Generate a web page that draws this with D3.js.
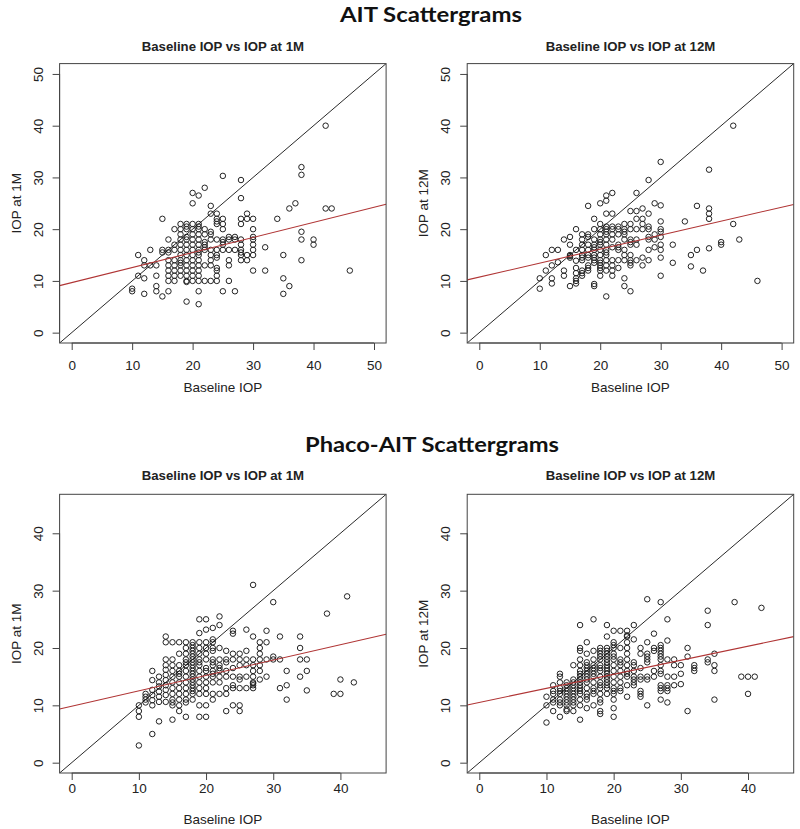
<!DOCTYPE html>
<html>
<head>
<meta charset="utf-8">
<script src="https://cdn.jsdelivr.net/npm/d3@7"></script>
<style>
  html, body { margin: 0; padding: 0; background: #fff; }
  svg { display: block; }
</style>
</head>
<body>
<svg id="chart" width="800" height="829"></svg>
<script>
// ---------- Data ----------
// each entry: [baseline IOP, [follow-up IOP values]]
const ait1M = [
  [10,[8.5,8]], [11,[15,11]], [12,[14,13,10.5,7.5]], [13,[16,13]], [14,[13,11,9,8]],
  [15,[22,16,15.5,7]], [16,[18,16,15.5,14,13,12,11,10,8]], [17,[20,17,16,14,13,12,11,10]],
  [18,[21,20,19,18,17,16,15,14,13.5,13,12,11]],
  [19,[21,20.5,20,18.5,18,17,16,15,14,13,12,11,10,9.8,6]],
  [20,[27,25,21,20,19,18,17,16,15,14,13,12,11,10]],
  [21,[26.5,21,20.5,20,19,18,17,16,15.5,15,14,13,12,11,10,8,5.5]],
  [22,[28,20,19,17.5,17,16.5,16,13,10]], [23,[24.5,23,19.5,19,18,16,15,14,13,10]],
  [24,[23,22,21.5,21,18,16,15,14.5,12.5,12,11,10]], [25,[30.3,22,21,20,18,17.5,17,16,8]],
  [26,[18.5,18,16,14,13,10]], [27,[18.5,18,16,8]], [28,[29.5,26,22,21,18,17,16,15.5,15,14]],
  [29,[23,22,15,14]], [30,[22,20,18.5,18,17,16,15,12]], [32,[16.5,12]], [34,[22]],
  [35,[15,10.5,7.5]], [36,[24,9]], [37,[25]], [38,[32,30.5,19.5,18,14]], [40,[18,17]],
  [42,[40,24]], [43,[24]], [46,[12]]
];
const ait12M = [
  [10,[10.5,8.5]], [11,[15,12]], [12,[16,13,10.5,9.5]], [13,[16,13.6]], [14,[18,12,11]],
  [15,[18.5,17,15,14.8,14.5,9]], [16,[20,16,13.9,12.5,11.5,10.5,10,9.5]],
  [17,[19,18,17,16,15,14.5,14,12,11.5,11]], [18,[24.5,19,18.5,17,16,15,14.5,13,12.5,12]],
  [19,[22,20,18,17,16.5,16,15,14.5,14,13.5,9.4,9]],
  [20,[25,21,20,19,18,17.5,17,16,15,14,13.5,13,12.5,12,11]],
  [21,[26.5,25.5,23,20.5,20,19.5,19,18,17,16,15.5,15,14,13,12,7]],
  [22,[27,23,20.5,20,19,18,16.5,14,13,12,11]], [23,[20.5,20,19,17,16.5,16,14,12.5]],
  [24,[21,20,19.5,19,18,16,15,14,10.5,9]], [25,[23.5,21,20,18,17.5,17,15,14,13.5,13,8]],
  [26,[27,23.5,22,20,18,17,14]], [27,[24,22,21,20,14.5,13]],
  [28,[29.5,23,20.5,20,18.5,18,16,14]], [29,[25,19,18,16.5]],
  [30,[33,24.6,21.5,20,19.5,18.5,17,16,14.5,11]], [32,[17,13.5]], [34,[21.5]],
  [35,[15,12.8]], [36,[24.5,16]], [37,[12]], [38,[31.5,24,23,22,16.3]], [40,[17.5,17]],
  [42,[40,21]], [43,[18]], [46,[10]]
];
const phaco1M = [
  [10,[10,9,8,3]], [11,[12,11.5,11,10.5]], [12,[16,14.4,12.7,11.8,10.9,10,5]],
  [13,[15,14,13.3,12.4,11.5,10.6,7.2]], [14,[22,21,18,17,16.2,15.3,14.4,13.5,12.7,11.8,10.6]],
  [15,[21,18,17,16,15,14,13,12,11,10.5,10,7.5]], [16,[21,19,17,16,15.5,15,14,13,12,11,10,9]],
  [17,[21,20,19,18,17.5,17,16,15,14,13,12,11,10.5,8]],
  [18,[21,20.5,20,19.5,19,18.5,18,17.5,17,16.5,16,15.5,15,14.5,14,13.5,13,12.5,12,11]],
  [19,[25,22.6,21,20,19,18,17.5,17,16,15,14,13,12,10,8]],
  [20,[25,23.2,21,20,19,18,16.5,16,15,14,13,12,10,8]],
  [21,[23.5,21.5,21,20,19.5,18,17.5,17,16,15.5,15,14,12,11]],
  [22,[25.5,24,20,18,17,16.5,16,15,14,12]], [23,[19.5,18,17.5,16,15,13,12,9]],
  [24,[23,22.5,19,18,16.5,15,13.5,13,10]], [25,[19,18,17,15,14.5,13,10,9]],
  [26,[23.2,19.5,18,17,15,13]], [27,[31,22,18,17,16,15,14,13.8,13.5,13]],
  [28,[21,20,19,18,17,16,14.5]], [29,[23,21,18,15]], [30,[28,18.5,18]], [31,[22,18,13]],
  [32,[16,13.5,11]], [34,[22,20,18,15]], [35,[18,16,12.6]], [38,[26]], [39,[12]],
  [40,[14.5,12]], [41,[29]], [42,[14]]
];
const phaco12M = [
  [10,[11.5,10,7]], [11,[13.5,12.5,12,11,10.5,9]], [12,[15.5,15,14,13,12.5,12,11,10.5,10,8]],
  [13,[14,13.5,13,12.5,12,11.5,11,10.5,10,9.3,9]],
  [14,[17,14.5,14,13.5,13,12.5,12,11.5,11,10.5,10,9]],
  [15,[24,20,19.5,18,17,16,15.5,15,14.5,14,13.5,13,12.5,12,11,10,7.5]],
  [16,[21,19,17.5,17,16.5,16,15.5,15,14.5,14,13,12,11.5,11,9.5]],
  [17,[25,19.5,18,17,16.5,16,15.5,15,14,13,12.5,12,10]],
  [18,[20,19.5,19,18.5,18,17,16.5,16,15,14,13.5,13,12,11,10.5,9,8.5]],
  [19,[24,22,20,19.5,19,18.5,18,17.5,17,16.5,16,15.5,15,14.5,14,13.5,13,12]],
  [20,[23,21,20.5,20,19,18.5,18,17,16,15,14,13,12.5,12,11,9.5,8]],
  [21,[23,20,18,17.5,17,16,15,14,13,12.5]],
  [22,[23,22.2,22,21,20,19,18,17,16,15.5,15,13.5,11.5]],
  [23,[24,21.5,17.5,17,16,15,14.5,14,13.5]], [24,[20,19,16.5,15,14.5,12.5,12,11.5]],
  [25,[28.5,21,19,18.5,18,17.5,15,14.5,10]], [26,[22.5,20,19.5,16,15]],
  [27,[28,20.5,20,19.5,19,18.5,18,17,16,15.5,13.5,13,12.5,11]],
  [28,[25,21.3,18,15,13.5,13,12.5,10.5]], [29,[18,17,15,13.5]], [30,[17,15.5,13.7]],
  [31,[20,18.5,9]], [32,[17,16.5,16]], [34,[26.5,24,18,17.5]], [35,[19,17,16,11]],
  [38,[28]], [39,[15]], [40,[15,12]], [41,[15]], [42,[27]]
];
// regression fits: [intercept, slope]
const fitAit1M = [9.67, 0.291];
const fitAit12M = [10.74, 0.27];
const fitPhaco1M = [9.85, 0.268];
const fitPhaco12M = [10.51, 0.245];
// tick labels
const ticksAit = [0, 10, 20, 30, 40, 50];
const ticksPhaco = [0, 10, 20, 30, 40];
const sectionTitles = ["AIT Scattergrams", "Phaco-AIT Scattergrams"];
const panelTitles = ["Baseline IOP vs IOP at 1M", "Baseline IOP vs IOP at 12M"];
const yLabels = ["IOP at 1M", "IOP at 12M"];
const xLabel = "Baseline IOP";

// ---------- Drawing ----------
const svg = d3.select("#chart");
const AX = "'Liberation Sans', Arial, Helvetica, sans-serif";
const TITLE = "Lato, 'Open Sans', sans-serif";

function flatten(cols) {
  const out = [];
  cols.forEach(([x, ys]) => ys.forEach(y => out.push([x, y])));
  return out;
}

svg.append("text").attr("x", 431).attr("y", 22).attr("text-anchor", "middle")
  .attr("font-family", TITLE).attr("font-weight", "bold").attr("font-size", 21.5)
  .attr("textLength", 182).attr("lengthAdjust", "spacingAndGlyphs")
  .attr("fill", "#111").text(sectionTitles[0]);
svg.append("text").attr("x", 432).attr("y", 452).attr("text-anchor", "middle")
  .attr("font-family", TITLE).attr("font-weight", "bold").attr("font-size", 21.5)
  .attr("textLength", 254).attr("lengthAdjust", "spacingAndGlyphs")
  .attr("fill", "#111").text(sectionTitles[1]);

function panel(o) {
  const g = svg.append("g");
  const x = d3.scaleLinear().domain(o.dom).range([o.left, o.right]);
  const y = d3.scaleLinear().domain(o.dom).range([o.bottom, o.top]);
  const id = "clip" + Math.round(o.left) + "_" + Math.round(o.top);
  svg.append("clipPath").attr("id", id).append("rect")
    .attr("x", o.left).attr("y", o.top).attr("width", o.right - o.left).attr("height", o.bottom - o.top);

  // axes
  const xa = g.append("g").attr("transform", `translate(0,${o.bottom})`)
    .call(d3.axisBottom(x).tickValues(o.ticks).tickSize(7).tickPadding(o.xpad).tickFormat(d3.format("d")));
  const ya = g.append("g").attr("transform", `translate(${o.left},0)`)
    .call(d3.axisLeft(y).tickValues(o.ticks).tickSize(7).tickPadding(4).tickFormat(d3.format("d")));
  [xa, ya].forEach(a => {
    a.selectAll("path.domain").remove();
    a.selectAll("line").attr("stroke", "#444").attr("stroke-width", 1);
    a.selectAll("text").attr("font-family", AX).attr("font-size", 13.5).attr("fill", "#222");
  });
  ya.selectAll(".tick text")
    .attr("text-anchor", "middle").attr("x", null).attr("dy", null)
    .attr("transform", "translate(-17,0) rotate(-90)");
  // axis lines from first to last tick
  g.append("line").attr("x1", x(o.ticks[0])).attr("x2", x(o.ticks[o.ticks.length-1]))
    .attr("y1", o.bottom).attr("y2", o.bottom).attr("stroke", "#444");
  g.append("line").attr("y1", y(o.ticks[0])).attr("y2", y(o.ticks[o.ticks.length-1]))
    .attr("x1", o.left).attr("x2", o.left).attr("stroke", "#444");

  const pg = g.append("g").attr("clip-path", `url(#${id})`);
  // points
  pg.selectAll("circle").data(flatten(o.data)).join("circle")
    .attr("cx", d => x(d[0])).attr("cy", d => y(d[1])).attr("r", 2.75)
    .attr("fill", "none").attr("stroke", "#222").attr("stroke-width", 1);
  // identity line
  pg.append("line").attr("x1", x(o.dom[0])).attr("y1", y(o.dom[0]))
    .attr("x2", x(o.dom[1])).attr("y2", y(o.dom[1])).attr("stroke", "#111").attr("stroke-width", 0.9);
  // regression line
  const f = v => o.fit[0] + o.fit[1] * v;
  pg.append("line").attr("x1", x(o.dom[0])).attr("y1", y(f(o.dom[0])))
    .attr("x2", x(o.dom[1])).attr("y2", y(f(o.dom[1]))).attr("stroke", "#b03535").attr("stroke-width", 1.1);

  // box
  g.append("rect").attr("x", o.left).attr("y", o.top)
    .attr("width", o.right - o.left).attr("height", o.bottom - o.top)
    .attr("fill", "none").attr("stroke", "#444").attr("stroke-width", 1);

  // titles
  const cx = (o.left + o.right) / 2;
  g.append("text").attr("x", cx).attr("y", o.titleY).attr("text-anchor", "middle")
    .attr("font-family", AX).attr("font-weight", "bold").attr("font-size", 13.2)
    .attr("fill", "#222").text(o.title);
  g.append("text").attr("x", cx).attr("y", o.xlabY).attr("text-anchor", "middle")
    .attr("font-family", AX).attr("font-size", 13.5).attr("fill", "#222").text(xLabel);
  const cy = (o.top + o.bottom) / 2;
  g.append("text").attr("transform", `translate(${o.left - 39},${cy}) rotate(-90)`)
    .attr("text-anchor", "middle")
    .attr("font-family", AX).attr("font-size", 13.5).attr("fill", "#222").text(o.ylab);
}

const L = [59.6, 386.1], R = [467.2, 793.7];
const TOP = [63.6, 343], BOT = [494.3, 773];
panel({data: ait1M, fit: fitAit1M, dom: [-2, 52], ticks: ticksAit, left: L[0], right: L[1],
  top: TOP[0], bottom: TOP[1], title: panelTitles[0], ylab: yLabels[0], titleY: 51, xlabY: 392, xpad: 10});
panel({data: ait12M, fit: fitAit12M, dom: [-2, 52], ticks: ticksAit, left: R[0], right: R[1],
  top: TOP[0], bottom: TOP[1], title: panelTitles[1], ylab: yLabels[1], titleY: 51, xlabY: 392, xpad: 10});
panel({data: phaco1M, fit: fitPhaco1M, dom: [-1.8, 46.8], ticks: ticksPhaco, left: L[0], right: L[1],
  top: BOT[0], bottom: BOT[1], title: panelTitles[0], ylab: yLabels[0], titleY: 480, xlabY: 824, xpad: 3});
panel({data: phaco12M, fit: fitPhaco12M, dom: [-1.8, 46.8], ticks: ticksPhaco, left: R[0], right: R[1],
  top: BOT[0], bottom: BOT[1], title: panelTitles[1], ylab: yLabels[1], titleY: 480, xlabY: 824, xpad: 3});
</script>
</body>
</html>
